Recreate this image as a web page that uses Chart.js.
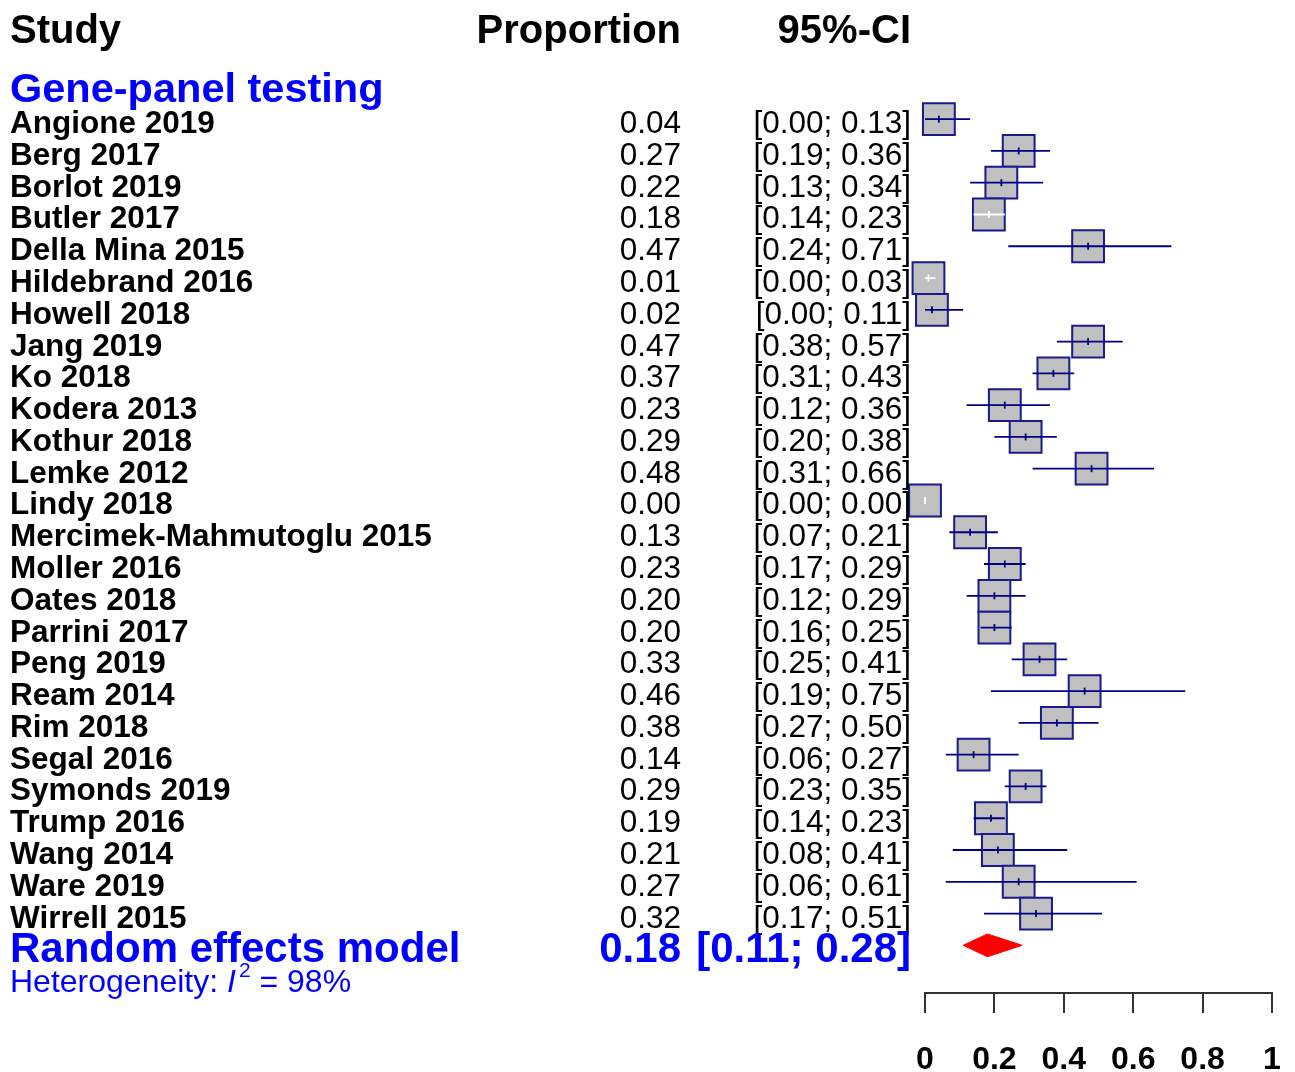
<!DOCTYPE html>
<html>
<head>
<meta charset="utf-8">
<title>Forest plot - gene-panel testing</title>
<script src="https://cdn.jsdelivr.net/npm/chart.js@4.4.1/dist/chart.umd.min.js"></script>
<style>
  html, body { margin: 0; padding: 0; background: #fff; }
  #wrap { width: 1295px; height: 1072px; }
</style>
</head>
<body>
<div id="wrap"><canvas id="forest" width="1295" height="1072"></canvas></div>
<script>
// --- data ---
const studies = ['Angione 2019', 'Berg 2017', 'Borlot 2019', 'Butler 2017', 'Della Mina 2015',
  'Hildebrand 2016', 'Howell 2018', 'Jang 2019', 'Ko 2018', 'Kodera 2013', 'Kothur 2018',
  'Lemke 2012', 'Lindy 2018', 'Mercimek-Mahmutoglu 2015', 'Moller 2016', 'Oates 2018',
  'Parrini 2017', 'Peng 2019', 'Ream 2014', 'Rim 2018', 'Segal 2016', 'Symonds 2019',
  'Trump 2016', 'Wang 2014', 'Ware 2019', 'Wirrell 2015'];
const proportion = [0.04, 0.27, 0.22, 0.184, 0.47, 0.01, 0.02, 0.47, 0.37, 0.23, 0.29, 0.48, 0.00,
  0.13, 0.23, 0.20, 0.20, 0.33, 0.46, 0.38, 0.14, 0.29, 0.19, 0.21, 0.27, 0.32];
const ciLower = [0.00, 0.19, 0.13, 0.14, 0.24, 0.00, 0.00, 0.38, 0.31, 0.12, 0.20, 0.31, 0.00,
  0.07, 0.17, 0.12, 0.16, 0.25, 0.19, 0.27, 0.06, 0.23, 0.14, 0.08, 0.06, 0.17];
const ciUpper = [0.13, 0.36, 0.34, 0.23, 0.71, 0.03, 0.11, 0.57, 0.43, 0.36, 0.38, 0.66, 0.00,
  0.21, 0.29, 0.29, 0.25, 0.41, 0.75, 0.50, 0.27, 0.35, 0.23, 0.41, 0.61, 0.51];
const pooled = [0.18, 0.11, 0.28];   // estimate, lower, upper
const heterogeneityI2 = 98;
const xTicks = [0, 0.2, 0.4, 0.6, 0.8, 1];
const groupLabel = 'Gene-panel testing';

// --- styling ---
const FONT = '"Liberation Sans", Arial, sans-serif';
const BLUE = '#0000ff';
const NAVY = '#000080';
const halfBox = 0.047;   // CI shorter than the box on both sides -> white line
const pooledRow = studies.length + 1;
const hetRow = studies.length + 2;

const inside = proportion.map((p, i) => p - ciLower[i] < halfBox && ciUpper[i] - p < halfBox);
const rowPoints = idx => idx.map(i => ({ x: proportion[i], y: i + 1 }));

function segments(idx) {
  const out = [];
  idx.forEach(i => {
    out.push({ x: ciLower[i], y: i + 1 }, { x: ciUpper[i], y: i + 1 }, { x: null, y: null });
  });
  return out;
}

const allIdx = studies.map((s, i) => i);
const navyIdx = allIdx.filter(i => !inside[i]);
const whiteIdx = allIdx.filter(i => inside[i]);
const dh = 0.36; // diamond half height, in rows

// texts: names, estimates and CI columns
const textPlugin = {
  id: 'forestText',
  afterDraw(chart) {
    const ctx = chart.ctx;
    const ys = chart.scales.y;
    const rowY = v => ys.getPixelForValue(v);
    ctx.save();
    ctx.textBaseline = 'alphabetic';

    // header
    ctx.fillStyle = '#000';
    ctx.font = `bold 40px ${FONT}`;
    ctx.textAlign = 'left';
    ctx.fillText('Study', 10, 43);
    ctx.textAlign = 'right';
    ctx.fillText('Proportion', 681, 43);
    ctx.fillText('95%-CI', 911, 43);

    // subgroup title
    ctx.fillStyle = BLUE;
    ctx.textAlign = 'left';
    ctx.font = `bold 41.5px ${FONT}`;
    ctx.fillText(groupLabel, 10, rowY(0) + 15);

    // study rows
    studies.forEach((name, i) => {
      const b = rowY(i + 1) + 14;
      ctx.fillStyle = '#000';
      ctx.textAlign = 'left';
      ctx.font = `bold 31.5px ${FONT}`;
      ctx.fillText(name, 10, b);
      ctx.font = `31.5px ${FONT}`;
      ctx.textAlign = 'right';
      ctx.fillText(proportion[i].toFixed(2), 681, b);
      ctx.fillText(`[${ciLower[i].toFixed(2)}; ${ciUpper[i].toFixed(2)}]`, 911, b);
    });

    // pooled row
    let b = rowY(pooledRow) + 17;
    ctx.fillStyle = BLUE;
    ctx.font = `bold 42px ${FONT}`;
    ctx.textAlign = 'left';
    ctx.fillText('Random effects model', 10, b);
    ctx.textAlign = 'right';
    ctx.fillText(pooled[0].toFixed(2), 681, b);
    ctx.fillText(`[${pooled[1].toFixed(2)}; ${pooled[2].toFixed(2)}]`, 911, b);

    // heterogeneity
    b = rowY(hetRow) + 15;
    ctx.textAlign = 'left';
    let x = 10;
    ctx.font = `32px ${FONT}`;
    ctx.fillText('Heterogeneity: ', x, b);
    x += ctx.measureText('Heterogeneity: ').width;
    ctx.font = `italic 32px ${FONT}`;
    ctx.fillText('I', x, b);
    x += ctx.measureText('I').width + 3;
    ctx.font = `21px ${FONT}`;
    ctx.fillText('2', x, b - 15);
    x += ctx.measureText('2').width;
    ctx.font = `32px ${FONT}`;
    ctx.fillText(` = ${heterogeneityI2}%`, x, b);
    ctx.restore();
  }
};

new Chart(document.getElementById('forest'), {
  type: 'scatter',
  data: {
    datasets: [
      {
        // estimate marks
        data: rowPoints(allIdx),
        pointStyle: 'line',
        rotation: 90,
        pointRadius: 3.5,
        borderWidth: 1.8,
        borderColor: allIdx.map(i => inside[i] ? '#ffffff' : NAVY),
        clip: false,
        order: 1
      },
      {
        type: 'line',
        data: segments(navyIdx),
        borderColor: NAVY,
        borderWidth: 1.8,
        pointRadius: 0,
        spanGaps: false,
        fill: false,
        clip: false,
        order: 2
      },
      {
        type: 'line',
        data: segments(whiteIdx),
        borderColor: '#ffffff',
        borderWidth: 1.8,
        pointRadius: 0,
        spanGaps: false,
        fill: false,
        clip: false,
        order: 2
      },
      {
        // boxes
        data: rowPoints(allIdx),
        pointStyle: 'rect',
        pointRadius: 22.5,
        backgroundColor: '#c0c0c0',
        borderColor: '#1a1a8c',
        borderWidth: 2,
        clip: false,
        order: 3
      },
      {
        // pooled diamond
        type: 'line',
        data: [
          { x: pooled[1], y: pooledRow },
          { x: pooled[0], y: pooledRow - dh },
          { x: pooled[2], y: pooledRow },
          { x: pooled[0], y: pooledRow + dh },
          { x: pooled[1], y: pooledRow }
        ],
        borderColor: '#ff0000',
        backgroundColor: '#ff0000',
        borderWidth: 1,
        pointRadius: 0,
        fill: 'shape',
        clip: false,
        order: 4
      }
    ]
  },
  options: {
    responsive: false,
    devicePixelRatio: 1,
    animation: false,
    events: [],
    layout: { autoPadding: false, padding: { left: 925, right: 23, top: 0, bottom: 0 } },
    plugins: {
      legend: { display: false },
      tooltip: { enabled: false }
    },
    scales: {
      x: {
        type: 'linear',
        min: 0,
        max: 1,
        afterBuildTicks: s => { s.ticks = xTicks.map(v => ({ value: v })); },
        afterFit: s => {
          s.height = 79;
          s.paddingLeft = 0;
          s.paddingRight = 0;
        },
        ticks: {
          color: '#000',
          padding: 28,
          maxRotation: 0,
          autoSkip: false,
          font: { family: FONT, size: 32, weight: 'bold' },
          callback: v => String(v)
        },
        grid: {
          drawOnChartArea: false,
          drawTicks: true,
          tickLength: 20,
          color: '#333',
          lineWidth: 2
        },
        border: { display: true, color: '#333', width: 2 }
      },
      y: {
        type: 'linear',
        display: false,
        reverse: true,
        min: -2.75,
        max: 28.5
      }
    }
  },
  plugins: [textPlugin]
});
</script>
</body>
</html>
